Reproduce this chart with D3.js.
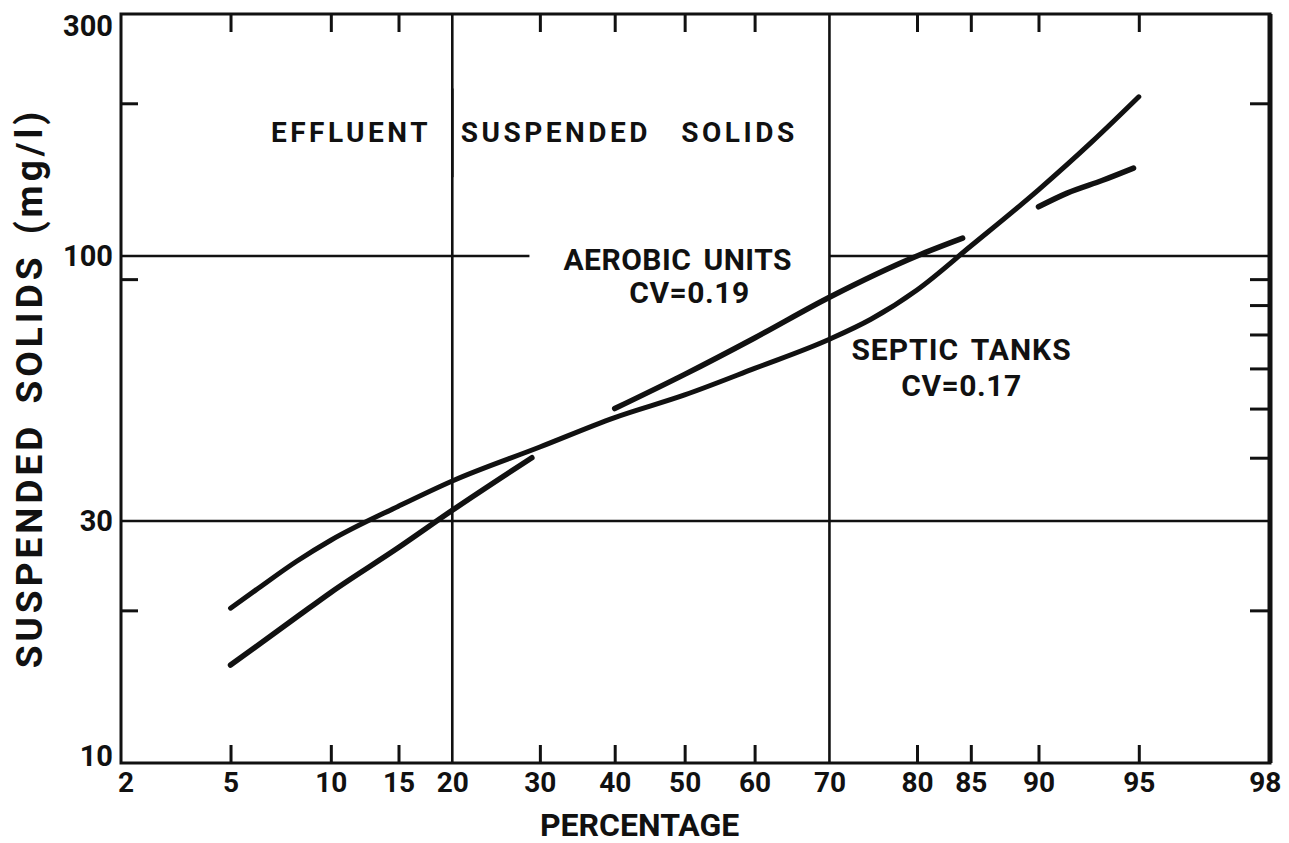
<!DOCTYPE html>
<html>
<head>
<meta charset="utf-8">
<script src="https://cdn.jsdelivr.net/npm/d3@7"></script>
<style>
body { margin: 0; background: #fff; }
svg text { font-family: Roboto, 'DejaVu Sans', sans-serif; font-weight: 700; fill: #111; }
</style>
</head>
<body>
<svg class="chart" width="1289" height="843"></svg>
<script>
// Probability paper, percent along x, log mg/l up y
var pctDomain = [2.06, 98.3];
var ssDomain = [10, 300];

var xTickLabels = [2, 5, 10, 15, 20, 30, 40, 50, 60, 70, 80, 85, 90, 95, 98];
var xMinorTicks = [5, 10, 15, 30, 40, 50, 60, 80, 85, 90, 95];
var yTickLabels = [10, 30, 100, 300];
var yLeftTicks = [200, 90, 20];
var yRightTicks = [200, 90, 80, 70, 60, 50, 40, 20];

// Septic tanks, one continuous line
var septicPct = [5, 6, 8, 10, 15, 20, 30, 40, 50, 60, 70, 75, 80, 85, 90, 93, 95];
var septicSS = [20.2, 21.9, 25, 27.5, 32.1, 36, 42, 48, 53.2, 60, 68.5, 75, 85.7, 104.6, 135, 168, 206];

// Aerobic units, drawn in three pieces (null = break)
var aerobicPct = [5, 8, 10, 15, 20, 29, 35, 40, 50, 60, 70, 80, 84.3, 87, 90, 91.7, 93.5, 94.8];
var aerobicSS = [15.6, 19.4, 21.7, 26.6, 31.5, 40, null, 50, 58.4, 68.9, 82.9, 100, 108.4, null, 125, 133, 141, 149];

// grid lines (some broken round the labels)
var hGridSS = [100, 100, 30];
var hGridFrom = [2.06, 70, 2.06];
var hGridTo = [28.7, 98.3, 98.3];
var vGridPct = [20, 20, 70];
var vGridFrom = [10, 143, 10];
var vGridTo = [214, 300, 300];

var noteText = ['EFFLUENT SUSPENDED SOLIDS', 'AEROBIC UNITS', 'CV=0.19', 'SEPTIC TANKS', 'CV=0.17'];
var notePct = [29.3, 49, 50.7, 84.2, 84.2];
var noteSS = [168, 93.8, 80.7, 62.3, 52.9];

var margin = {top: 14, right: 19, bottom: 80, left: 121};
var width = 1289 - margin.left - margin.right;
var height = 843 - margin.top - margin.bottom;

// inverse normal CDF (Acklam)
function probit(p) {
    var a = [-39.69683028665376, 220.9460984245205, -275.9285104469687, 138.357751867269, -30.66479806614716, 2.506628277459239];
    var b = [-54.47609879822406, 161.5858368580409, -155.6989798598866, 66.80131188771972, -13.28068155288572];
    var c = [-0.007784894002430293, -0.3223964580411365, -2.400758277161838, -2.549732539343734, 4.374664141464968, 2.938163982698783];
    var d = [0.007784695709041462, 0.3224671290700398, 2.445134137142996, 3.754408661907416];
    var q, r;
    if (p < 0.02425) {
        q = Math.sqrt(-2 * Math.log(p));
        return (((((c[0] * q + c[1]) * q + c[2]) * q + c[3]) * q + c[4]) * q + c[5]) /
            ((((d[0] * q + d[1]) * q + d[2]) * q + d[3]) * q + 1);
    }
    if (p > 1 - 0.02425) {
        q = Math.sqrt(-2 * Math.log(1 - p));
        return -(((((c[0] * q + c[1]) * q + c[2]) * q + c[3]) * q + c[4]) * q + c[5]) /
            ((((d[0] * q + d[1]) * q + d[2]) * q + d[3]) * q + 1);
    }
    q = p - 0.5;
    r = q * q;
    return (((((a[0] * r + a[1]) * r + a[2]) * r + a[3]) * r + a[4]) * r + a[5]) * q /
        (((((b[0] * r + b[1]) * r + b[2]) * r + b[3]) * r + b[4]) * r + 1);
}

function z(pct) {
    return probit(pct / 100);
}

var zScale = d3.scaleLinear().domain(pctDomain.map(z)).range([0, width]);
var yScale = d3.scaleLog().domain(ssDomain).range([height, 0]);

function xPos(pct) {
    return zScale(z(pct));
}

var svg = d3.select('.chart');
var g = svg.append('g')
    .attr('transform', 'translate(' + margin.left + ',' + margin.top + ')');

function zipSeries(pcts, values) {
    return pcts.map(function(p, i) {
        return {p: p, v: values[i]};
    });
}

/* grid */
g.append('g').selectAll('line')
    .data(hGridSS)
    .join('line')
    .attr('x1', function(d, i) { return xPos(hGridFrom[i]); })
    .attr('x2', function(d, i) { return xPos(hGridTo[i]); })
    .attr('y1', function(d) { return yScale(d); })
    .attr('y2', function(d) { return yScale(d); })
    .style('stroke', '#111')
    .style('stroke-width', 2.6);

g.append('g').selectAll('line')
    .data(vGridPct)
    .join('line')
    .attr('x1', function(d) { return xPos(d); })
    .attr('x2', function(d) { return xPos(d); })
    .attr('y1', function(d, i) { return yScale(vGridFrom[i]); })
    .attr('y2', function(d, i) { return yScale(vGridTo[i]); })
    .style('stroke', '#111')
    .style('stroke-width', 2.6);

/* ticks */
function styleAxis(sel, size) {
    sel.select('.domain').remove();
    sel.selectAll('.tick line').style('stroke', '#111').style('stroke-width', 3);
    sel.selectAll('.tick text')
        .style('font-size', size + 'px')
        .style('font-family', 'Roboto, sans-serif')
        .style('font-weight', 700)
        .style('fill', '#111');
}

var xMinorZ = xMinorTicks.map(z);

g.append('g')
    .attr('transform', 'translate(0,' + height + ')')
    .call(d3.axisBottom(zScale).tickValues(xMinorZ).tickSize(-18).tickFormat(''))
    .call(styleAxis, 0);

g.append('g')
    .call(d3.axisTop(zScale).tickValues(xMinorZ).tickSize(-18).tickFormat(''))
    .call(styleAxis, 0);

var xLabels = g.append('g')
    .attr('transform', 'translate(0,' + height + ')')
    .call(d3.axisBottom(zScale)
        .tickValues(xTickLabels.map(z))
        .tickSize(0)
        .tickPadding(9)
        .tickFormat(function(d, i) { return xTickLabels[i]; }))
    .call(styleAxis, 28);

// end labels sit a little inside the paper's edge marks
xLabels.selectAll('.tick text')
    .attr('dx', function(d, i) {
        if (i === 0) return 8;
        if (i === xTickLabels.length - 1) return 13;
        return 0;
    });

g.append('g')
    .call(d3.axisLeft(yScale).tickValues(yLeftTicks).tickSize(-17).tickFormat(''))
    .call(styleAxis, 0);

g.append('g')
    .attr('transform', 'translate(' + width + ',0)')
    .call(d3.axisRight(yScale).tickValues(yRightTicks).tickSize(-20).tickFormat(''))
    .call(styleAxis, 0);

var yLabels = g.append('g')
    .call(d3.axisLeft(yScale)
        .tickValues(yTickLabels)
        .tickSize(0)
        .tickPadding(8)
        .tickFormat(d3.format('d')))
    .call(styleAxis, 29);

yLabels.selectAll('.tick text')
    .attr('dy', function(d) {
        if (d === 300) return '0.75em';
        if (d === 10) return '0.1em';
        return '0.32em';
    });

/* frame */
g.append('rect')
    .attr('width', width)
    .attr('height', height)
    .style('fill', 'none')
    .style('stroke', '#111')
    .style('stroke-width', 3);

g.append('line')
    .attr('x1', width).attr('x2', width)
    .attr('y1', 0).attr('y2', height)
    .style('stroke', '#111')
    .style('stroke-width', 5);

/* curves */
var line = d3.line()
    .defined(function(d) { return d.v != null; })
    .x(function(d) { return xPos(d.p); })
    .y(function(d) { return yScale(d.v); })
    .curve(d3.curveMonotoneX);

g.append('path')
    .datum(zipSeries(septicPct, septicSS))
    .attr('d', line)
    .style('fill', 'none')
    .style('stroke', '#111')
    .style('stroke-width', 5)
    .style('stroke-linecap', 'round');

g.append('path')
    .datum(zipSeries(aerobicPct, aerobicSS))
    .attr('d', line)
    .style('fill', 'none')
    .style('stroke', '#111')
    .style('stroke-width', 5.5)
    .style('stroke-linecap', 'round');

/* notes */
var noteSize = [28, 30, 30, 30, 30];
var noteSpacing = [3.5, 0.5, 0.5, 1, 0.5];
var noteWordSpacing = [20, 4, 0, 4, 0];

g.append('g').selectAll('text')
    .data(noteText)
    .join('text')
    .attr('x', function(d, i) { return xPos(notePct[i]); })
    .attr('y', function(d, i) { return yScale(noteSS[i]); })
    .attr('text-anchor', 'middle')
    .style('font-size', function(d, i) { return noteSize[i] + 'px'; })
    .style('letter-spacing', function(d, i) { return noteSpacing[i] + 'px'; })
    .style('word-spacing', function(d, i) { return noteWordSpacing[i] + 'px'; })
    .text(function(d) { return d; });

/* axis titles */
svg.append('text')
    .attr('x', margin.left + xPos(50) - 45)
    .attr('y', 836)
    .attr('text-anchor', 'middle')
    .style('font-size', '32px')
    .text('PERCENTAGE');

svg.append('text')
    .attr('transform', 'translate(42,388) rotate(-90)')
    .attr('text-anchor', 'middle')
    .style('font-size', '37px')
    .style('letter-spacing', '4px')
    .style('word-spacing', '6px')
    .text('SUSPENDED SOLIDS (mg/l)');
</script>
</body>
</html>
